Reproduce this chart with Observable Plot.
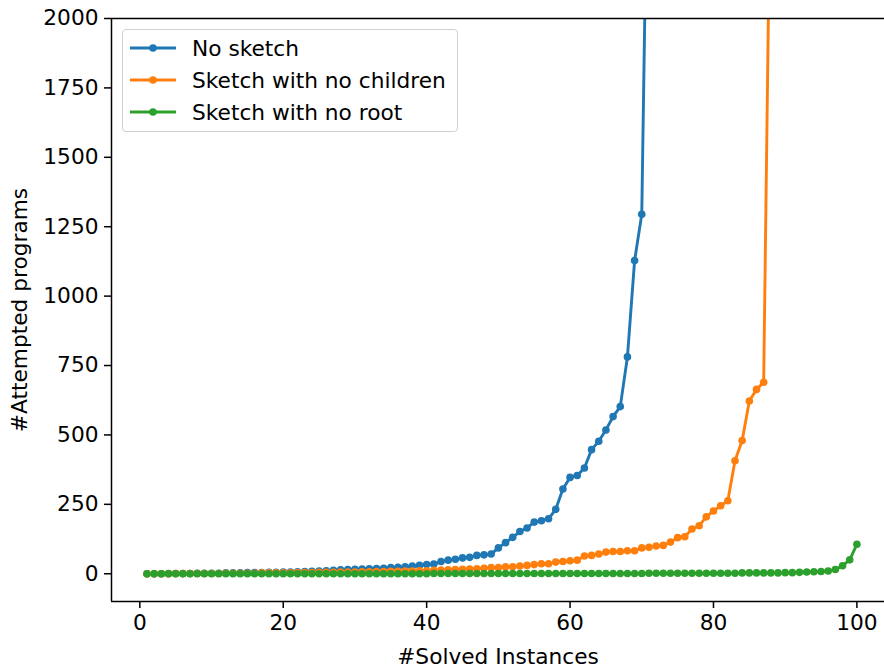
<!DOCTYPE html>
<html>
<head>
<meta charset="utf-8">
<script src="https://cdn.jsdelivr.net/npm/d3@7"></script>
<script src="https://cdn.jsdelivr.net/npm/@observablehq/plot@0.6"></script>
<style>
  html, body { margin: 0; padding: 0; background: #fff; }
  #wrap { position: relative; width: 884px; height: 668px; font-family: "DejaVu Sans", sans-serif; }
  #legend { position: absolute; left: 122px; top: 29px; width: 336px; height: 103px;
    border: 1.3px solid #d0d0d0; border-radius: 4px; background: rgba(255,255,255,0.8); box-sizing: border-box; }
  .item { position: absolute; left: 6px; height: 30px; display: flex; align-items: center; font-size: 21.7px; color: #000; }
  .item svg { margin-right: 15px; }
</style>
</head>
<body>
<div id="wrap"><div id="legend"></div></div>
<script>
const seriesNames = ["No sketch", "Sketch with no children", "Sketch with no root"];
const seriesColors = ["#1f77b4", "#ff7f0e", "#2ca02c"];

// #Attempted programs per solved-instance count (value at the last index leaves the chart)
const noSketch = [0,0,0,1,1,1,1,2,2,2, 2,3,3,3,4,4,4,5,5,6, 6,7,8,9,10,11,12,14,15,16,
  17,18,19,20,22,23,25,28,30,33, 35,44,49,52,57,59,66,68,71,93, 112,131,152,165,186,191,198,232,305,347,
  354,381,447,477,518,566,602,781,1128,1295, 3000];
const noChildren = [0,0,0,0,1,1,1,1,1,1, 1,2,2,2,2,2,3,3,3,3, 3,4,4,4,5,5,5,6,6,6,
  7,7,8,8,9,9,10,10,11,11, 12,13,14,15,16,17,18,20,22,22, 25,25,28,30,33,36,36,42,44,47,
  49,64,66,71,78,80,80,83,83,93, 95,100,102,114,130,133,161,173,205,226, 245,263,407,480,622,664,690,2700];
const noRoot = [0,0,0,0,0,0,0,0,0,0, 0,0,0,0,0,0,0,0,0,0, 0,0,0,0,0,0,0,0,0,0,
  0,0,0,0,0,0,0,0,0,0, 1,1,1,1,1,1,1,1,1,1, 1,1,1,1,1,1,1,1,1,1,
  1,1,1,1,1,1,1,1,1,1, 2,2,2,2,2,2,2,2,2,2, 2,2,2,3,3,3,3,3,3,4,
  4,5,6,7,8,10,15,29,50,106];

const xTicks = [0, 20, 40, 60, 80, 100];
const yTicks = [0, 250, 500, 750, 1000, 1250, 1500, 1750, 2000];

const data = [];
[noSketch, noChildren, noRoot].forEach((arr, s) => {
  arr.forEach((v, i) => data.push({series: seriesNames[s], x: i + 1, y: v}));
});

const xDomain = [-3.95, 103.85];
const yDomain = [-100, 2000];

const chart = Plot.plot({
  width: 884,
  height: 668,
  marginTop: 18,
  marginBottom: 67,
  marginLeft: 111,
  marginRight: 0,
  style: {fontFamily: "DejaVu Sans, sans-serif", fontSize: "21.7px", color: "#000", background: "#fff"},
  x: {domain: xDomain},
  y: {domain: yDomain},
  color: {domain: seriesNames, range: seriesColors},
  marks: [
    Plot.line(data, {x: "x", y: "y", z: "series", stroke: "series", strokeWidth: 2.9, clip: true}),
    Plot.dot(data, {x: "x", y: "y", fill: "series", r: 3.8, clip: true}),
    Plot.ruleY([yDomain[1]], {stroke: "#000", strokeWidth: 1.5}),
    Plot.ruleY([yDomain[0]], {stroke: "#000", strokeWidth: 1.5}),
    Plot.ruleX([xDomain[0]], {stroke: "#000", strokeWidth: 1.5}),
    Plot.axisX({ticks: xTicks, tickFormat: d3.format("d"), tickSize: 7, tickPadding: 6, strokeWidth: 1.5, fontSize: 21.7,
      label: "#Solved Instances", labelAnchor: "center", labelArrow: "none", labelOffset: 62}),
    Plot.axisY({ticks: yTicks, tickFormat: d3.format("d"), tickSize: 7, tickPadding: 6, strokeWidth: 1.5, fontSize: 21.7,
      label: "#Attempted programs", labelAnchor: "center", labelArrow: "none", labelOffset: 100})
  ]
});
document.getElementById("wrap").prepend(chart);

const legend = document.getElementById("legend");
seriesNames.forEach((name, i) => {
  const item = document.createElement("div");
  item.className = "item";
  item.style.top = (3 + i * 32) + "px";
  item.innerHTML = `<svg width="48" height="12"><line x1="1" x2="47" y1="6" y2="6" stroke="${seriesColors[i]}" stroke-width="2.9"/><circle cx="24" cy="6" r="3.8" fill="${seriesColors[i]}"/></svg><span>${name}</span>`;
  legend.appendChild(item);
});
</script>
</body>
</html>
